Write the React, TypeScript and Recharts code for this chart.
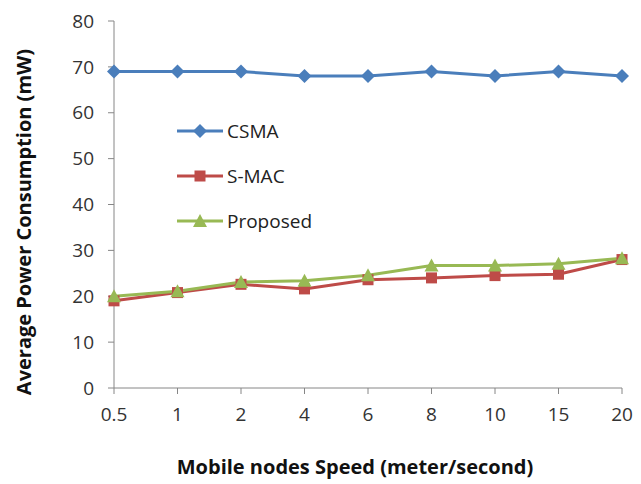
import React from "react"
import { LineChart, Line, XAxis, YAxis } from "recharts"

const speeds = ["0.5", "1", "2", "4", "6", "8", "10", "15", "20"]
const csma = [69, 69, 69, 68, 68, 69, 68, 69, 68]
const smac = [19, 20.8, 22.6, 21.6, 23.6, 24, 24.5, 24.8, 28]
const proposed = [20, 21.1, 23.1, 23.4, 24.6, 26.7, 26.7, 27.1, 28.3]
const yTicks = [0, 10, 20, 30, 40, 50, 60, 70, 80]

const data = speeds.map((s, i) => ({
  speed: s,
  CSMA: csma[i],
  "S-MAC": smac[i],
  Proposed: proposed[i],
}))

const BLUE = "#4a7ebb"
const RED = "#be4b48"
const GREEN = "#98b954"
const AXIS = "#868686"
const FONT = "'Open Sans', 'Noto Sans', sans-serif"

function Marker({ kind, cx, cy, color }: { kind: string; cx: number; cy: number; color: string }) {
  if (kind === "diamond") {
    const r = 7
    return <path d={`M${cx},${cy - r}L${cx + r},${cy}L${cx},${cy + r}L${cx - r},${cy}Z`} fill={color} />
  }
  if (kind === "square") {
    const r = 5.5
    return <rect x={cx - r} y={cy - r} width={r * 2} height={r * 2} fill={color} />
  }
  const r = 7
  return <path d={`M${cx},${cy - r}L${cx + r},${cy + r - 1}L${cx - r},${cy + r - 1}Z`} fill={color} />
}

const dotOf = (kind: string, color: string) => (props: any) => (
  <Marker key={`${kind}-${props.index}`} kind={kind} cx={props.cx} cy={props.cy} color={color} />
)

const legendItems = [
  { name: "CSMA", kind: "diamond", color: BLUE },
  { name: "S-MAC", kind: "square", color: RED },
  { name: "Proposed", kind: "triangle", color: GREEN },
]

function LegendBox() {
  return (
    <div style={{ position: "absolute", left: 175, top: 108 }}>
      {legendItems.map((it) => (
        <div key={it.name} style={{ display: "flex", alignItems: "center", height: 45 }}>
          <svg width={50} height={16}>
            <line x1={2} y1={8} x2={48} y2={8} stroke={it.color} strokeWidth={3} />
            <Marker kind={it.kind} cx={25} cy={8} color={it.color} />
          </svg>
          <span style={{ fontFamily: FONT, fontSize: 19, color: "#222", marginLeft: 2 }}>{it.name}</span>
        </div>
      ))}
    </div>
  )
}

export default function App() {
  return (
    <div style={{ position: "absolute", left: 0, top: 0, width: 641, height: 484, background: "#fff" }}>
      <LineChart width={641} height={484} data={data} margin={{ top: 21, right: 19, bottom: 0, left: 0 }}>
        <XAxis
          dataKey="speed"
          height={96}
          stroke={AXIS}
          tickSize={6}
          tickMargin={14}
          tick={{ fill: "#333", fontSize: 19, fontFamily: FONT }}
          label={{
            content: () => (
              <text x={355} y={474} textAnchor="middle" fontFamily={FONT} fontSize={20} fontWeight="bold" fill="#111">
                Mobile nodes Speed (meter/second)
              </text>
            ),
          }}
        />
        <YAxis
          width={114}
          domain={[0, 80]}
          ticks={yTicks}
          stroke={AXIS}
          tickSize={6}
          tickMargin={14}
          tick={{ fill: "#333", fontSize: 19, fontFamily: FONT }}
          label={{
            content: () => (
              <text
                x={23}
                y={222}
                transform="rotate(-90 23 222)"
                textAnchor="middle"
                dominantBaseline="central"
                fontFamily={FONT}
                fontSize={20}
                fontWeight="bold"
                fill="#111"
              >
                Average Power Consumption (mW)
              </text>
            ),
          }}
        />
        <Line dataKey="CSMA" stroke={BLUE} strokeWidth={3} dot={dotOf("diamond", BLUE)} isAnimationActive={false} />
        <Line dataKey="S-MAC" stroke={RED} strokeWidth={3} dot={dotOf("square", RED)} isAnimationActive={false} />
        <Line dataKey="Proposed" stroke={GREEN} strokeWidth={3} dot={dotOf("triangle", GREEN)} isAnimationActive={false} />
      </LineChart>
      <LegendBox />
    </div>
  )
}
